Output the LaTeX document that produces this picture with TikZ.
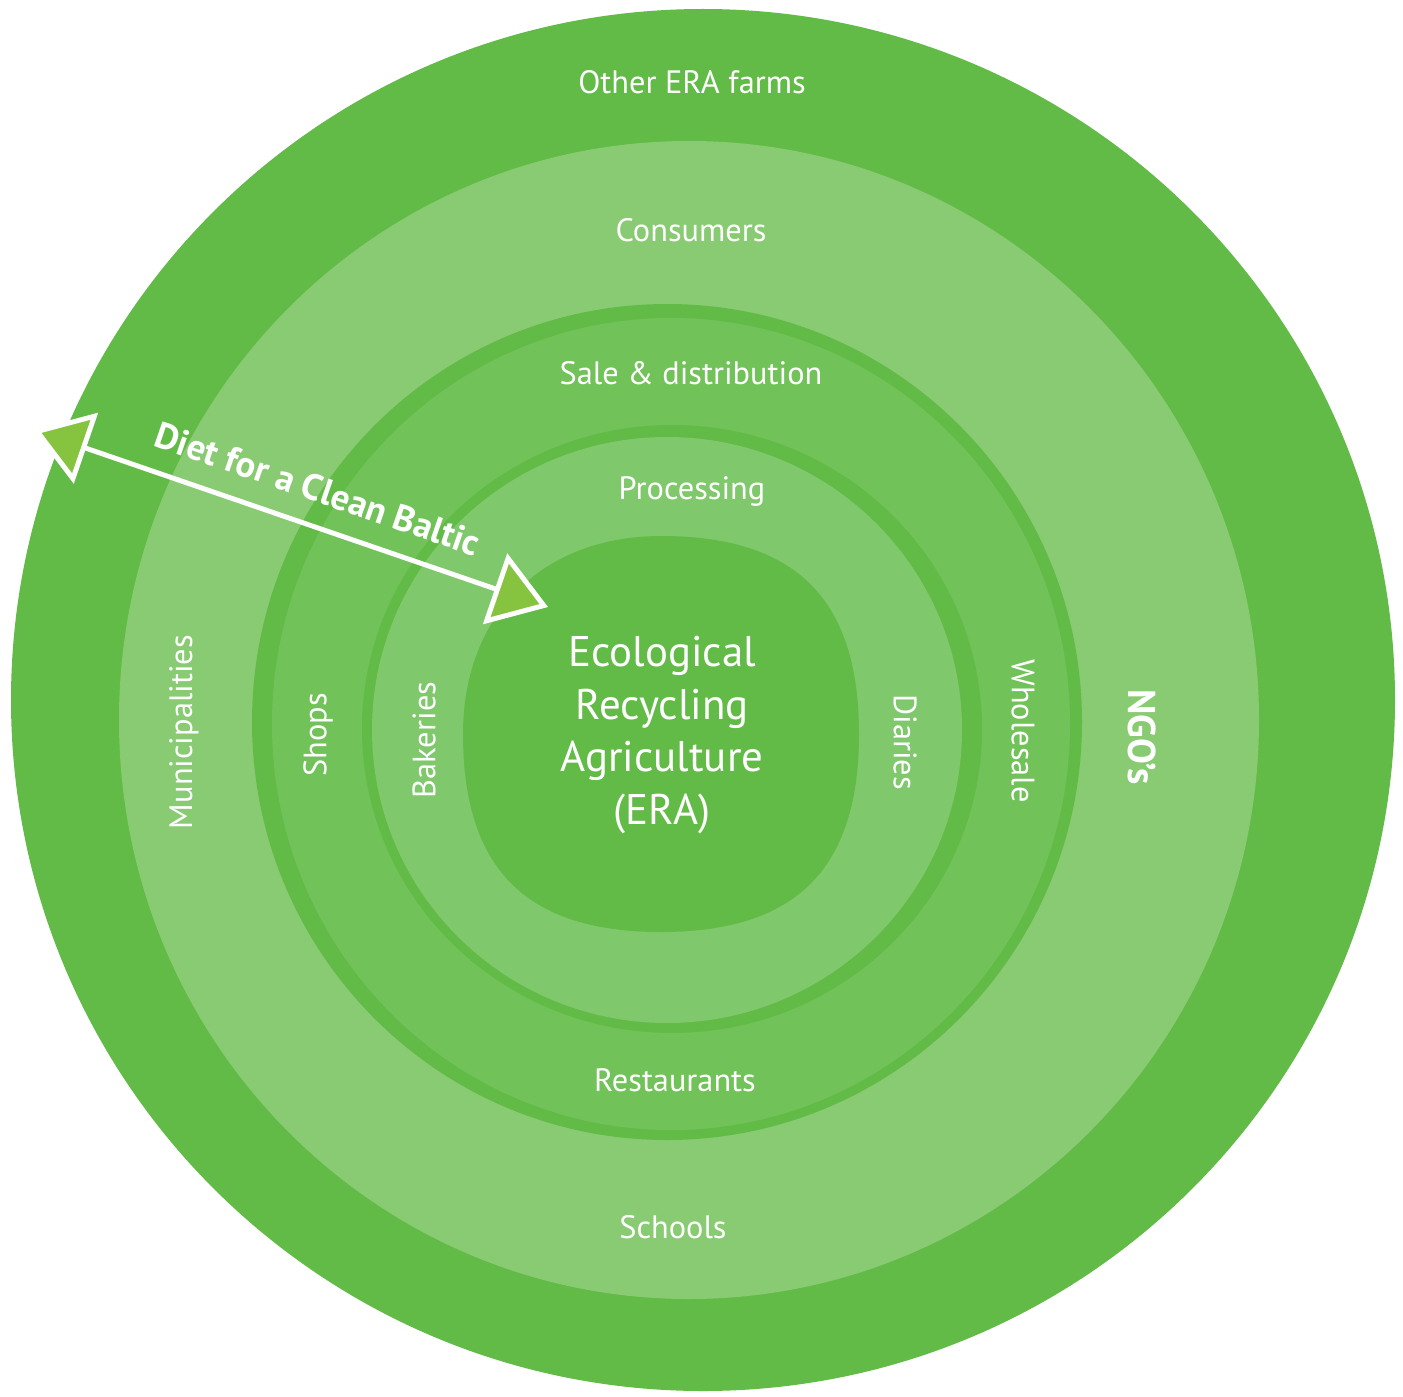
\documentclass[tikz,border=0pt]{standalone}
\usepackage{fontspec}
\setmainfont{PT Sans}
\usetikzlibrary{arrows.meta}

\definecolor{eraDark}{RGB}{98,187,70}
\definecolor{eraLight}{RGB}{137,203,115}
\definecolor{eraMid}{RGB}{114,194,90}
\definecolor{eraPale}{RGB}{128,200,108}
\definecolor{eraTip}{RGB}{134,196,64}

\tikzset{
  ringlabel/.style={text=white, inner sep=0pt, font=\fontsize{9.2}{11}\selectfont},
  corelabel/.style={text=white, inner sep=0pt, align=center, font=\fontsize{12.2}{15}\selectfont},
  dietlabel/.style={text=white, inner sep=0pt, font=\fontsize{10.4}{12}\selectfont\bfseries},
  diettip/.tip={Triangle[length=5.6mm, width=7.4mm, fill=eraTip]},
  dietline/.style={draw=white, line width=1.4pt, diettip-diettip}
}

\begin{document}
\begin{tikzpicture}[x=0.01cm, y=-0.01cm]
  \useasboundingbox (0,0) rectangle (1403,1397);
  \fill[white] (0,0) rectangle (1403,1397);
  \foreach \cx/\cy/\rx/\ry/\col in {703/700/692/691/eraDark, 689/720/570/579/eraLight,
      667/722/415/418/eraDark, 671/724/399/406/eraMid,
      672/729/310/304/eraDark, 667/730/295/293/eraPale} {
    \fill[\col] (\cx,\cy) ellipse [x radius=\rx, y radius=\ry];
  }
  \fill[eraDark, shift={(661,734)}] (198,0) .. controls (198,135) and (135,198) .. (0,198)
      .. controls (-135,198) and (-198,135) .. (-198,0)
      .. controls (-198,-119) and (-119,-198) .. (0,-198)
      .. controls (135,-198) and (198,-135) .. (198,0) -- cycle;

  \node[ringlabel] (farms) at (692,82) {Other ERA farms};
  \node[ringlabel] (consumers) at (691,230) {Consumers};
  \node[ringlabel] (sale) at (691,373) {Sale \& distribution};
  \node[ringlabel] (processing) at (692,491) {Processing};
  \node[ringlabel] (restaurants) at (675,1080) {Restaurants};
  \node[ringlabel] (schools) at (673,1227) {Schools};
  \node[ringlabel, rotate=90] (municipalities) at (184,732) {Municipalities};
  \node[ringlabel, rotate=90] (shops) at (318,735) {Shops};
  \node[ringlabel, rotate=90] (bakeries) at (424,740) {Bakeries};
  \node[ringlabel, rotate=-90] (diaries) at (905,742) {Diaries};
  \node[ringlabel, rotate=-90] (wholesale) at (1023,731) {Wholesale};
  \node[ringlabel, rotate=-90, font=\fontsize{11}{13}\selectfont\bfseries] (ngos) at (1142,737) {NGO’s};
  \node[corelabel] (era) at (662,735) {Ecological\\Recycling\\Agriculture\\(ERA)};

  \coordinate (dietL) at (33,430);
  \coordinate (dietR) at (548,607);
  \draw[dietline] (dietL) -- (dietR) node[dietlabel, pos=0.53, above=6pt, sloped] (diet) {Diet for a Clean Baltic};
\end{tikzpicture}
\end{document}
